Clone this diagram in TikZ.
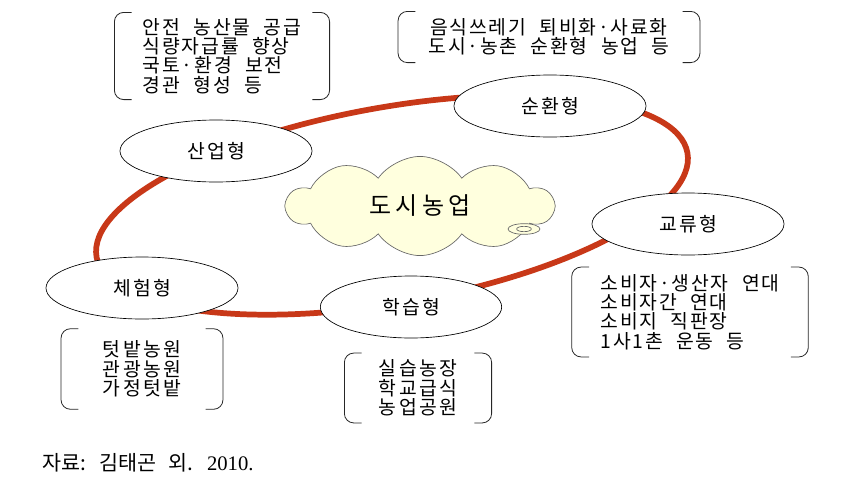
\documentclass[tikz,border=0pt]{standalone}
\usepackage{fontspec}
\setmainfont{Liberation Serif}
\newfontfamily\kr[LetterSpace=9,WordSpace=2.2]{Noto Sans CJK KR}
\newfontfamily\krwide[LetterSpace=12]{Noto Sans CJK KR}
\newfontfamily\krcloud[LetterSpace=18]{Noto Sans CJK KR}
\newfontfamily\krsrc[WordSpace=2.6]{Noto Sans CJK KR}
\usetikzlibrary{shapes.geometric,shapes.symbols,backgrounds}
\definecolor{ringred}{RGB}{200,56,24}
\definecolor{cloudfill}{RGB}{255,255,222}
\tikzset{
  ring/.style={draw=ringred,line width=4.3pt},
  typ/.style={ellipse,draw,line width=0.5pt,fill=white,
    minimum width=144pt,minimum height=46.5pt,
    font=\krwide\fontsize{14.5}{16}\selectfont},
  note/.style={rectangle,inner sep=0pt,align=left,
    font=\kr\fontsize{14.5}{14.5}\selectfont},
  notec/.style={note,align=center,font=\krwide\fontsize{14.5}{14.5}\selectfont},
  brk/.style={draw=black!85,line width=0.6pt,rounded corners=7pt}
}
\newcommand\drawbrackets[1]{%
  \draw[brk] ([xshift=13pt]#1.north west) -- (#1.north west)
    -- (#1.south west) -- ([xshift=13pt]#1.south west);
  \draw[brk] ([xshift=-13pt]#1.north east) -- (#1.north east)
    -- (#1.south east) -- ([xshift=-13pt]#1.south east);}
\begin{document}
\begin{tikzpicture}[x=0.75pt,y=-0.75pt]
\useasboundingbox (0,0) rectangle (864,486);

% types on the ring
\node[typ] (sanup) at (216,151) {산업형};
\node[typ] (sunhwan) at (550,106) {순환형};
\node[typ] (gyoryu) at (688,224) {교류형};
\node[typ] (cheheom) at (142,288) {체험형};
\node[typ,minimum width=136pt] (hakseup) at (411,307) {학습형};

% centre cloud
\node[cloud,cloud puffs=10,cloud puff arc=110,aspect=2,draw=black!60,
  line width=0.5pt,fill=cloudfill,minimum width=200pt,minimum height=60pt,
  font=\krcloud\fontsize{18}{20}\selectfont] (dosi) at (420,206) {도시농업};
\node[ellipse,draw=black!60,line width=0.5pt,fill=cloudfill,inner sep=0pt,
  minimum width=24pt,minimum height=8pt] (bub) at (524,229) {};
\node[ellipse,draw=black!60,line width=0.5pt,inner sep=0pt,
  minimum width=11pt,minimum height=4pt] (bubin) at (bub) {};

% ring
\begin{scope}[on background layer,shift={(392,205)},rotate=10]
  \draw[ring] (0,0) ellipse [x radius=300,y radius=98];
\end{scope}

% notes
\node[note,minimum width=161pt,minimum height=65pt] (n1) at (222,56)
  {안전 농산물 공급\\식량자급률 향상\\국토·환경 보전\\경관 형성 등};
\node[note,align=center,minimum width=226pt,minimum height=38pt] (n2) at (549,37)
  {음식쓰레기 퇴비화·사료화\\도시·농촌 순환형 농업 등};
\node[note,minimum width=177pt,minimum height=67pt] (n3) at (690,312)
  {소비자·생산자 연대\\소비자간 연대\\소비지 직판장\\1사1촌 운동 등};
\node[notec,minimum width=121pt,minimum height=60pt] (n4) at (142,369)
  {텃밭농원\\관광농원\\가정텃밭};
\node[notec,minimum width=110pt,minimum height=52pt] (n5) at (418,388)
  {실습농장\\학교급식\\농업공원};
\drawbrackets{n1}
\drawbrackets{n2}
\drawbrackets{n3}
\drawbrackets{n4}
\drawbrackets{n5}

% source
\node[anchor=west,inner sep=0pt,font=\krsrc\fontsize{15.5}{17}\selectfont] (src)
  at (42,463) {자료: 김태곤 외. {\rmfamily 2010.}};
\end{tikzpicture}
\end{document}
